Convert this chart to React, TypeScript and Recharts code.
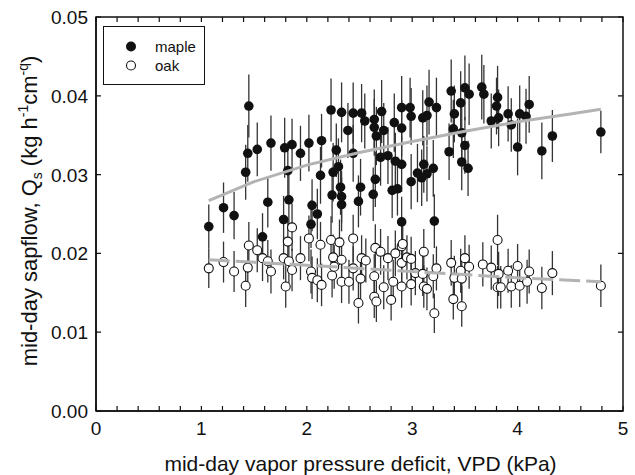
import { ScatterChart, Scatter, XAxis, YAxis, ErrorBar } from 'recharts'

// ─── data: [VPD (kPa), Qs, ± error] ───────────────────────────────────────

const MAPLE: [number, number, number][] = [
  [1.07, 0.0234, 0.0028], [1.21, 0.0258, 0.0032], [1.31, 0.0248, 0.0030], [1.42, 0.0303, 0.0035],
  [1.44, 0.0327, 0.0036], [1.45, 0.0387, 0.0040], [1.53, 0.0332, 0.0034], [1.58, 0.0221, 0.0030],
  [1.63, 0.0265, 0.0032], [1.66, 0.0340, 0.0035], [1.78, 0.0243, 0.0030], [1.79, 0.0334, 0.0038],
  [1.82, 0.0305, 0.0036], [1.83, 0.0268, 0.0034], [1.86, 0.0338, 0.0033], [1.94, 0.0327, 0.0035],
  [2.02, 0.0340, 0.0036], [2.04, 0.0237, 0.0030], [2.05, 0.0261, 0.0033], [2.10, 0.0250, 0.0032],
  [2.13, 0.0299, 0.0036], [2.14, 0.0343, 0.0034], [2.23, 0.0382, 0.0040], [2.24, 0.0274, 0.0035],
  [2.25, 0.0303, 0.0037], [2.28, 0.0331, 0.0034], [2.30, 0.0310, 0.0036], [2.32, 0.0284, 0.0035],
  [2.33, 0.0379, 0.0038], [2.33, 0.0272, 0.0033], [2.33, 0.0262, 0.0034], [2.39, 0.0356, 0.0035],
  [2.44, 0.0378, 0.0039], [2.44, 0.0327, 0.0036], [2.49, 0.0266, 0.0033], [2.51, 0.0284, 0.0036],
  [2.52, 0.0378, 0.0037], [2.55, 0.0368, 0.0035], [2.63, 0.0275, 0.0034], [2.64, 0.0370, 0.0038],
  [2.64, 0.0360, 0.0036], [2.65, 0.0294, 0.0035], [2.66, 0.0349, 0.0037], [2.70, 0.0322, 0.0036],
  [2.71, 0.0380, 0.0040], [2.73, 0.0356, 0.0035], [2.77, 0.0324, 0.0036], [2.81, 0.0280, 0.0035],
  [2.83, 0.0366, 0.0037], [2.84, 0.0317, 0.0036], [2.86, 0.0282, 0.0034], [2.90, 0.0385, 0.0040],
  [2.90, 0.0359, 0.0036], [2.90, 0.0313, 0.0035], [2.90, 0.0240, 0.0032], [2.98, 0.0385, 0.0038],
  [2.99, 0.0374, 0.0036], [2.99, 0.0291, 0.0035], [3.05, 0.0302, 0.0037], [3.09, 0.0296, 0.0036],
  [3.10, 0.0372, 0.0035], [3.11, 0.0313, 0.0036], [3.14, 0.0375, 0.0038], [3.14, 0.0301, 0.0035],
  [3.16, 0.0392, 0.0041], [3.20, 0.0308, 0.0036], [3.21, 0.0241, 0.0034], [3.23, 0.0385, 0.0038],
  [3.35, 0.0329, 0.0036], [3.37, 0.0406, 0.0040], [3.39, 0.0358, 0.0037], [3.40, 0.0377, 0.0036],
  [3.46, 0.0391, 0.0040], [3.47, 0.0353, 0.0037], [3.47, 0.0316, 0.0036], [3.50, 0.0410, 0.0041],
  [3.50, 0.0337, 0.0036], [3.53, 0.0308, 0.0035], [3.54, 0.0402, 0.0039], [3.66, 0.0411, 0.0041],
  [3.68, 0.0402, 0.0037], [3.75, 0.0368, 0.0035], [3.80, 0.0387, 0.0036], [3.81, 0.0398, 0.0040],
  [3.82, 0.0372, 0.0036], [3.91, 0.0377, 0.0035], [3.94, 0.0363, 0.0034], [4.00, 0.0335, 0.0036],
  [4.02, 0.0377, 0.0036], [4.08, 0.0374, 0.0035], [4.11, 0.0389, 0.0036], [4.23, 0.0330, 0.0036],
  [4.33, 0.0349, 0.0033], [4.79, 0.0354, 0.0027],
]

const OAK: [number, number, number][] = [
  [1.07, 0.0181, 0.0025], [1.21, 0.0189, 0.0026], [1.31, 0.0177, 0.0026], [1.42, 0.0159, 0.0027],
  [1.44, 0.0182, 0.0028], [1.45, 0.0210, 0.0030], [1.53, 0.0204, 0.0028], [1.58, 0.0194, 0.0029],
  [1.63, 0.0190, 0.0027], [1.66, 0.0177, 0.0028], [1.78, 0.0194, 0.0027], [1.80, 0.0158, 0.0027],
  [1.82, 0.0215, 0.0029], [1.83, 0.0190, 0.0028], [1.86, 0.0233, 0.0030], [1.86, 0.0179, 0.0027],
  [1.94, 0.0194, 0.0028], [2.02, 0.0219, 0.0029], [2.04, 0.0177, 0.0028], [2.05, 0.0169, 0.0027],
  [2.10, 0.0166, 0.0028], [2.13, 0.0211, 0.0029], [2.14, 0.0160, 0.0027], [2.23, 0.0217, 0.0030],
  [2.24, 0.0172, 0.0028], [2.25, 0.0195, 0.0029], [2.26, 0.0183, 0.0028], [2.31, 0.0214, 0.0029],
  [2.33, 0.0192, 0.0028], [2.33, 0.0164, 0.0027], [2.40, 0.0164, 0.0028], [2.44, 0.0219, 0.0030],
  [2.44, 0.0181, 0.0028], [2.49, 0.0137, 0.0026], [2.51, 0.0168, 0.0027], [2.52, 0.0194, 0.0029],
  [2.56, 0.0191, 0.0028], [2.64, 0.0171, 0.0028], [2.64, 0.0145, 0.0027], [2.65, 0.0207, 0.0030],
  [2.66, 0.0139, 0.0026], [2.70, 0.0202, 0.0029], [2.73, 0.0157, 0.0028], [2.77, 0.0194, 0.0028],
  [2.80, 0.0141, 0.0026], [2.82, 0.0164, 0.0028], [2.84, 0.0200, 0.0029], [2.90, 0.0209, 0.0029],
  [2.90, 0.0188, 0.0028], [2.90, 0.0158, 0.0027], [2.91, 0.0212, 0.0030], [2.95, 0.0195, 0.0028],
  [2.99, 0.0193, 0.0028], [2.99, 0.0161, 0.0027], [3.03, 0.0175, 0.0028], [3.10, 0.0174, 0.0028],
  [3.11, 0.0202, 0.0029], [3.11, 0.0158, 0.0027], [3.14, 0.0155, 0.0027], [3.20, 0.0171, 0.0028],
  [3.21, 0.0124, 0.0025], [3.23, 0.0181, 0.0028], [3.37, 0.0188, 0.0029], [3.39, 0.0142, 0.0026],
  [3.40, 0.0169, 0.0028], [3.46, 0.0178, 0.0028], [3.47, 0.0168, 0.0027], [3.47, 0.0133, 0.0026],
  [3.50, 0.0194, 0.0029], [3.54, 0.0183, 0.0028], [3.67, 0.0186, 0.0028], [3.75, 0.0182, 0.0028],
  [3.81, 0.0217, 0.0032], [3.81, 0.0157, 0.0027], [3.82, 0.0174, 0.0028], [3.84, 0.0157, 0.0027],
  [3.91, 0.0178, 0.0028], [3.94, 0.0158, 0.0027], [4.00, 0.0184, 0.0028], [4.02, 0.0159, 0.0027],
  [4.09, 0.0164, 0.0028], [4.11, 0.0177, 0.0028], [4.23, 0.0156, 0.0027], [4.33, 0.0175, 0.0028],
  [4.79, 0.0159, 0.0027],
]

// fitted curves
const MAPLE_FIT_X = [1.07, 1.5, 2.0, 2.5, 3.0, 3.5, 4.0, 4.5, 4.79]
const MAPLE_FIT_Y = [0.0267, 0.0291, 0.0312, 0.0328, 0.0342, 0.0355, 0.0367, 0.0377, 0.0383]
const OAK_FIT_X = [1.07, 2.0, 3.0, 4.0, 4.79]
const OAK_FIT_Y = [0.0192, 0.0185, 0.0177, 0.0169, 0.0164]

// axis ticks (minor every 0.2 on x, labelled on integers)
const X_TICKS = [0, 0.2, 0.4, 0.6, 0.8, 1, 1.2, 1.4, 1.6, 1.8, 2, 2.2, 2.4, 2.6, 2.8, 3,
  3.2, 3.4, 3.6, 3.8, 4, 4.2, 4.4, 4.6, 4.8, 5]
const Y_TICKS = [0, 0.01, 0.02, 0.03, 0.04, 0.05]
const X_MAX = 5
const Y_MAX = 0.05

// ─── style / layout ───────────────────────────────────────────────────────

const FONT = 'Arial, "Liberation Sans", Helvetica, sans-serif'
const INK = '#111'
const FIT_GREY = '#b3b3b3'
const TICK_LEN = 5
const FRAME_W = 1.5

const CHART_W = 635
const CHART_H = 475
const MARGIN = { top: 17, right: 12, bottom: 0, left: 0 }
const Y_AXIS_W = 96
const X_AXIS_H = 64
const PLOT_X = MARGIN.left + Y_AXIS_W                              // 96
const PLOT_Y = MARGIN.top                                          // 17
const PLOT_W = CHART_W - MARGIN.left - MARGIN.right - Y_AXIS_W     // 527
const PLOT_H = CHART_H - MARGIN.top - MARGIN.bottom - X_AXIS_H     // 394

const toRows = (pts: [number, number, number][]) => pts.map(([x, y, err]) => ({ x, y, err }))
const toLine = (xs: number[], ys: number[]) => xs.map((x, i) => ({ x, y: ys[i] }))

const isInt = (v: number) => Math.abs(v - Math.round(v)) < 1e-9

// ─── ticks (inward, mirrored on the top / right frame) ────────────────────

function BottomTick({ x, y, payload }: any) {
  const v = payload.value
  const top = y - PLOT_H
  return (
    <g>
      <path d={`M${x},${y}V${y - TICK_LEN}M${x},${top}V${top + TICK_LEN}`} stroke={INK} strokeWidth={1.2} fill="none" />
      {isInt(v) && (
        <text x={x} y={y + 24} textAnchor="middle" fontSize={19} fontFamily={FONT} fill={INK}>{v}</text>
      )}
    </g>
  )
}

function LeftTick({ x, y, payload }: any) {
  const v = Number(payload.value)
  const right = x + PLOT_W
  return (
    <g>
      <path d={`M${x},${y}H${x + TICK_LEN}M${right},${y}H${right - TICK_LEN}`} stroke={INK} strokeWidth={1.2} fill="none" />
      <text x={x - 8} y={y + 7} textAnchor="end" fontSize={19} fontFamily={FONT} fill={INK}>
        {v.toFixed(2)}
      </text>
    </g>
  )
}

// ─── axis titles ──────────────────────────────────────────────────────────

function YTitle({ viewBox }: any) {
  const cy = viewBox.y + viewBox.height / 2 - 3
  const cx = 37
  return (
    <text x={cx} y={cy} transform={`rotate(-90, ${cx}, ${cy})`} textAnchor="middle"
      fontSize={22} fontFamily={FONT} fill={INK}>
      mid-day sapflow, Q<tspan dy={5} fontSize={14}>s</tspan>
      <tspan dy={-5}> (kg h</tspan>
      <tspan dy={-9} fontSize={14}>-1</tspan>
      <tspan dy={9}>cm</tspan>
      <tspan dy={-9} fontSize={14}>-q</tspan>
      <tspan dy={9}>)</tspan>
    </text>
  )
}

function XTitle({ viewBox }: any) {
  return (
    <text x={viewBox.x + viewBox.width / 2 + 1} y={471} textAnchor="middle"
      fontSize={21} fontFamily={FONT} fill={INK}>
      mid-day vapor pressure deficit, VPD (kPa)
    </text>
  )
}

// ─── markers ──────────────────────────────────────────────────────────────

const FilledDot = ({ cx, cy }: any) => <circle cx={cx} cy={cy} r={4.8} fill="#111" />
const OpenDot = ({ cx, cy }: any) => <circle cx={cx} cy={cy} r={4.5} fill="#fff" stroke="#111" strokeWidth={1.1} />
const NoDot = () => <g />

// ─── frame + legend overlay ───────────────────────────────────────────────

function Frame() {
  return (
    <svg width={CHART_W} height={CHART_H}
      style={{ position: 'absolute', left: 0, top: 0, pointerEvents: 'none', overflow: 'visible' }}>
      <rect x={PLOT_X} y={PLOT_Y} width={PLOT_W} height={PLOT_H} fill="none" stroke={INK} strokeWidth={FRAME_W} />
    </svg>
  )
}

function LegendBox() {
  return (
    <svg width={103} height={60} style={{ position: 'absolute', left: 103, top: 26 }}>
      <rect x={0.5} y={0.5} width={101} height={58} fill="#fff" stroke={INK} strokeWidth={1} />
      <circle cx={28} cy={20.5} r={5} fill="#111" />
      <text x={52} y={26} fontSize={15} fontFamily={FONT} fill={INK}>maple</text>
      <circle cx={28} cy={39.5} r={4.5} fill="#fff" stroke="#111" strokeWidth={1.1} />
      <text x={52} y={45} fontSize={15} fontFamily={FONT} fill={INK}>oak</text>
    </svg>
  )
}

// ─── chart ────────────────────────────────────────────────────────────────

export default function App() {
  const axisLine = { stroke: INK, strokeWidth: FRAME_W }
  return (
    <div style={{ position: 'absolute', left: 0, top: 0, width: CHART_W, height: CHART_H }}>
      <ScatterChart width={CHART_W} height={CHART_H} margin={MARGIN}>
        <XAxis
          type="number" dataKey="x" domain={[0, X_MAX]} ticks={X_TICKS} interval={0}
          height={X_AXIS_H} tickSize={0} tickMargin={0} axisLine={axisLine} tickLine={false}
          tick={<BottomTick />} label={<XTitle />}
        />
        <YAxis
          type="number" dataKey="y" domain={[0, Y_MAX]} ticks={Y_TICKS} interval={0}
          width={Y_AXIS_W} tickSize={0} tickMargin={0} axisLine={axisLine} tickLine={false}
          tick={<LeftTick />} label={<YTitle />}
        />

        <Scatter data={toRows(MAPLE)} shape={<FilledDot />} isAnimationActive={false}>
          <ErrorBar dataKey="err" direction="y" width={0} stroke="#333" strokeWidth={1.3} />
        </Scatter>
        <Scatter data={toRows(OAK)} shape={<OpenDot />} isAnimationActive={false}>
          <ErrorBar dataKey="err" direction="y" width={0} stroke="#333" strokeWidth={1.3} />
        </Scatter>

        <Scatter
          data={toLine(MAPLE_FIT_X, MAPLE_FIT_Y)} shape={<NoDot />} isAnimationActive={false}
          line={{ stroke: FIT_GREY, strokeWidth: 3 }}
        />
        <Scatter
          data={toLine(OAK_FIT_X, OAK_FIT_Y)} shape={<NoDot />} isAnimationActive={false}
          line={{ stroke: FIT_GREY, strokeWidth: 3, strokeDasharray: '21 6' }}
        />
      </ScatterChart>
      <Frame />
      <LegendBox />
    </div>
  )
}
